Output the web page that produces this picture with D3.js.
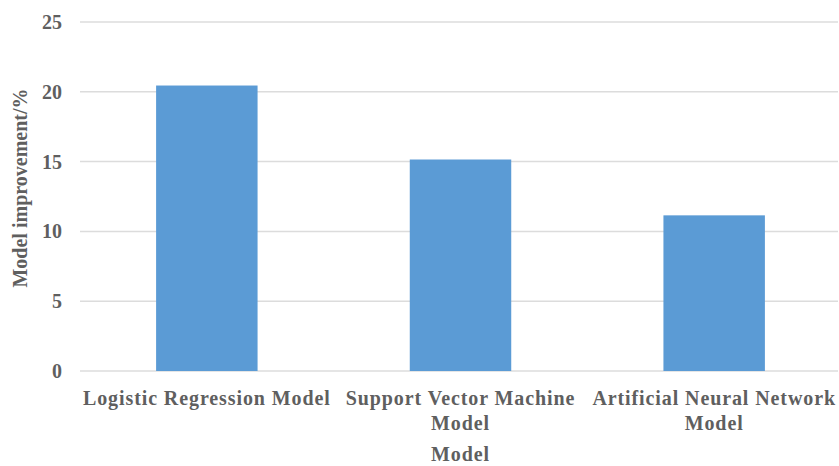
<!DOCTYPE html>
<html><head><meta charset="utf-8">
<script src="https://cdn.jsdelivr.net/npm/d3@7"></script>
<style>body{margin:0;background:#fff}svg{display:block}</style>
</head><body>
<svg id="c" width="839" height="466"></svg>
<script>
const categories = [["Logistic Regression Model"], ["Support Vector Machine", "Model"], ["Artificial Neural Network", "Model"]];
const values = [20.45, 15.15, 11.15];
const yTicks = [0, 5, 10, 15, 20, 25];
const yTitle = "Model improvement/%";
const xTitle = "Model";

(function () {
const svg = d3.select("#c");
const mLeft = 80, mRight = 841, mTop = 22, mBottom = 371;
const font = "'Liberation Serif','Times New Roman',serif";
const textColor = "#5f5f5f";

const x = d3.scaleBand().domain(d3.range(values.length)).range([mLeft, mRight]).padding(0);
const y = d3.scaleLinear().domain([0, 25]).range([mBottom, mTop]);

// gridlines
svg.append("g").selectAll("line").data(yTicks).join("line")
  .attr("x1", mLeft).attr("x2", 838)
  .attr("y1", d => y(d)).attr("y2", d => y(d))
  .attr("stroke", "#dcdcdc").attr("stroke-width", 1.5);

// y tick labels
svg.append("g").selectAll("text").data(yTicks).join("text")
  .attr("x", 62).attr("y", d => y(d)).attr("dy", "0.35em")
  .attr("text-anchor", "end")
  .attr("font-family", font).attr("font-weight", "bold").attr("font-size", 20)
  .attr("fill", textColor).text(d => d);

// bars
const bw = x.bandwidth() * 0.4;
svg.append("g").selectAll("rect").data(values).join("rect")
  .attr("x", (d, i) => x(i) + x.bandwidth() / 2 - bw / 2)
  .attr("width", bw)
  .attr("y", d => y(d))
  .attr("height", d => y(0) - y(d))
  .attr("fill", "#5b9bd5");

// category labels
const cl = svg.append("g").selectAll("text").data(categories).join("text")
  .attr("x", (d, i) => x(i) + x.bandwidth() / 2)
  .attr("y", 405)
  .attr("text-anchor", "middle")
  .attr("font-family", font).attr("font-weight", "bold").attr("font-size", 20)
  .attr("letter-spacing", 0.9)
  .attr("fill", textColor);
cl.selectAll("tspan").data(d => d).join("tspan")
  .attr("x", function() { return d3.select(this.parentNode).attr("x"); })
  .attr("dy", (d, i) => i === 0 ? 0 : 25)
  .text(d => d);

// x title
svg.append("text").attr("x", x(1) + x.bandwidth() / 2).attr("y", 461)
  .attr("text-anchor", "middle")
  .attr("font-family", font).attr("font-weight", "bold").attr("font-size", 20)
  .attr("letter-spacing", 0.9)
  .attr("fill", textColor).text(xTitle);

// y title
svg.append("text").attr("transform", "translate(27,188) rotate(-90)")
  .attr("text-anchor", "middle")
  .attr("font-family", font).attr("font-weight", "bold").attr("font-size", 20)
  .attr("fill", textColor).text(yTitle);
})();
</script>
</body></html>
